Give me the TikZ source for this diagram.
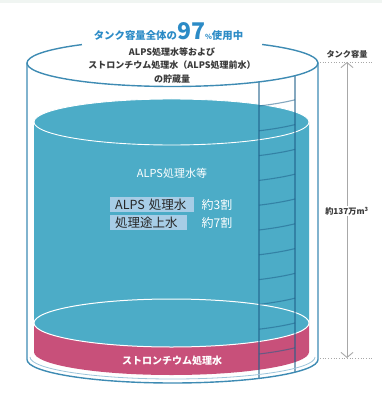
\documentclass[tikz,border=0pt]{standalone}
\usepackage{fontspec}
\usetikzlibrary{arrows.meta}
\newfontfamily\jp{Noto Sans CJK JP}
\definecolor{topstrip}{HTML}{F0F5F2}
\definecolor{tankblue}{HTML}{3E8BB3}
\definecolor{tanklight}{HTML}{9CC4DA}
\definecolor{liquid}{HTML}{4CACC7}
\definecolor{strontium}{HTML}{C8507A}
\definecolor{titleblue}{HTML}{2C8BC6}
\definecolor{tagblue}{HTML}{A7CDE6}
\definecolor{ink}{HTML}{3A3A3A}
\definecolor{ladderblue}{HTML}{20608A}
\definecolor{dimgray}{HTML}{A8A8A8}
\tikzset{
  tank/.style={draw=tankblue, line width=1.4pt},
  tankinner/.style={draw=tanklight, line width=0.8pt},
  ladder/.style={draw=ladderblue, line width=1.1pt, draw opacity=0.55},
  titletxt/.style={font=\jp\bfseries\fontsize{10.4}{12}\selectfont, text=titleblue, inner sep=0pt},
  subtxt/.style={font=\jp\bfseries\fontsize{9}{13.5}\selectfont, text=ink, align=center, inner sep=0pt},
  whitetxt/.style={font=\jp\fontsize{11}{13}\selectfont, text=white, inner sep=0pt},
  tagbox/.style={fill=tagblue, font=\jp\fontsize{12.5}{14}\selectfont, text=black!85,
    minimum height=15pt, inner xsep=5pt, inner ysep=0pt, align=left, anchor=west},
  sidetxt/.style={font=\jp\bfseries\fontsize{8.2}{10}\selectfont, text=ink, inner sep=1pt},
  guide/.style={draw=dimgray, line width=0.7pt, dotted},
  dim/.style={draw=dimgray, line width=0.9pt, {Straight Barb[length=5pt,width=12pt]}-{Straight Barb[length=5pt,width=12pt]}}
}
\begin{document}
\begin{tikzpicture}[x=1pt,y=1pt,line join=round]
\useasboundingbox (0,0) rectangle (382,-393);
\fill[topstrip] (0,0) rectangle (382,-3);

% water column above the strontium layer
\fill[liquid] (34,-122) -- (34,-323)
  arc[start angle=180,end angle=360,x radius=137.5,y radius=24]
  -- (309,-122) arc[start angle=0,end angle=180,x radius=137.5,y radius=23] -- cycle;
% strontium-treated water layer
\fill[strontium] (34,-323) arc[start angle=180,end angle=360,x radius=137.5,y radius=24]
  -- (309,-352) arc[start angle=0,end angle=-180,x radius=137.5,y radius=23] -- cycle;
% water surface rim and interface between the two layers
\draw[white, line width=0.9pt] (171.5,-122) ellipse[x radius=137.5,y radius=23];
\draw[white, line width=1pt] (171.5,-323) ellipse[x radius=137.5,y radius=24];

% ladder rails and rungs
\draw[ladder] (259,-81.9) -- (259,-378.4);
\draw[ladder] (295,-75.7) -- (295,-372.2);
\foreach \k in {0,...,10}
  \draw[ladder] (259,{-106-24.8*\k}) arc[start angle=-53.5,end angle=-32.6,x radius=145.5,y radius=23.5];

% tank shell: top rim (open behind the heading), walls and bottom
\draw[tank] (172.5,-63) ++(128.5:145.5 and 23.5)
  arc[start angle=128.5,end angle=412,x radius=145.5,y radius=23.5];
\draw[tank] (27,-63) -- (27,-359.5)
  arc[start angle=180,end angle=360,x radius=145.5,y radius=23.5] -- (318,-63);
\draw[tankinner] (30,-357) arc[start angle=180,end angle=360,x radius=142.5,y radius=22];

% heading
\node[titletxt, anchor=base] (title) at (168.5,-40)
  {タンク容量全体の{\fontsize{23}{23}\selectfont 97}{\fontsize{7}{7}\selectfont\%}使用中};
\node[subtxt] (subtitle) at (172,-65.5)
  {ALPS処理水等および\\ストロンチウム処理水（ALPS処理前水）\\の貯蔵量};

% labels on the water
\node[whitetxt] (alpsall) at (172,-173) {ALPS処理水等};
\node[tagbox, text width=74pt] (treated) at (110,-204.5) {ALPS 処理水};
\node[tagbox, text width=67pt] (untreated) at (110,-222.5) {処理途上水};
\node[whitetxt, font=\jp\fontsize{12}{14}\selectfont] (share3) at (217,-204.5) {約3割};
\node[whitetxt, font=\jp\fontsize{12}{14}\selectfont] (share7) at (217,-222.5) {約7割};
\node[whitetxt, font=\jp\bfseries\fontsize{10}{12}\selectfont] (sr) at (172,-361) {ストロンチウム処理水};

% capacity dimension
\coordinate (captop) at (347,-62);
\coordinate (capbot) at (347,-358);
\draw[guide] (320,-62) -- (372,-62);
\draw[guide] (320,-358) -- (372,-358);
\node[sidetxt] (caplabel) at (347,-54) {タンク容量};
\draw[dim] (capbot) -- (captop);
\node[sidetxt, fill=white] (capvalue) at (347,-211) {約137万m\textsuperscript{3}};
\end{tikzpicture}
\end{document}
